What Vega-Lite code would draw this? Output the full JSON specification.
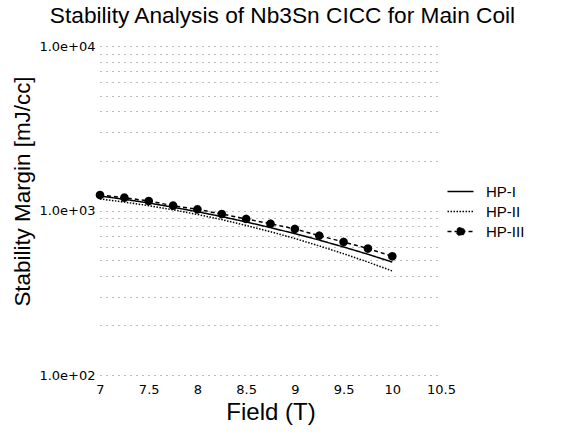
{
  "$schema": "https://vega.github.io/schema/vega-lite/v6.json",
  "width": 341,
  "height": 329,
  "autosize": "none",
  "padding": {"left": 100, "top": 46, "right": 130, "bottom": 62},
  "background": "white",
  "title": {
    "text": "Stability Analysis of Nb3Sn CICC for Main Coil",
    "font": "Liberation Sans",
    "fontSize": 22.7,
    "fontWeight": "normal",
    "color": "black",
    "anchor": "middle",
    "dx": 12,
    "offset": 12
  },
  "config": {
    "view": {"stroke": null},
    "font": "Liberation Sans"
  },
  "data": {
    "values": [
      {"series": "HP-I", "field": 7.0, "margin": 1225},
      {"series": "HP-I", "field": 7.25, "margin": 1170},
      {"series": "HP-I", "field": 7.5, "margin": 1111},
      {"series": "HP-I", "field": 7.75, "margin": 1047},
      {"series": "HP-I", "field": 8.0, "margin": 983},
      {"series": "HP-I", "field": 8.25, "margin": 918},
      {"series": "HP-I", "field": 8.5, "margin": 852},
      {"series": "HP-I", "field": 8.75, "margin": 787},
      {"series": "HP-I", "field": 9.0, "margin": 723},
      {"series": "HP-I", "field": 9.25, "margin": 661},
      {"series": "HP-I", "field": 9.5, "margin": 600},
      {"series": "HP-I", "field": 9.75, "margin": 542},
      {"series": "HP-I", "field": 10.0, "margin": 486},
      {"series": "HP-II", "field": 7.0, "margin": 1175},
      {"series": "HP-II", "field": 7.25, "margin": 1125},
      {"series": "HP-II", "field": 7.5, "margin": 1070},
      {"series": "HP-II", "field": 7.75, "margin": 1010},
      {"series": "HP-II", "field": 8.0, "margin": 946},
      {"series": "HP-II", "field": 8.25, "margin": 880},
      {"series": "HP-II", "field": 8.5, "margin": 811},
      {"series": "HP-II", "field": 8.75, "margin": 743},
      {"series": "HP-II", "field": 9.0, "margin": 676},
      {"series": "HP-II", "field": 9.25, "margin": 609},
      {"series": "HP-II", "field": 9.5, "margin": 546},
      {"series": "HP-II", "field": 9.75, "margin": 486},
      {"series": "HP-II", "field": 10.0, "margin": 429},
      {"series": "HP-III", "field": 7.0, "margin": 1242},
      {"series": "HP-III", "field": 7.25, "margin": 1197},
      {"series": "HP-III", "field": 7.5, "margin": 1142},
      {"series": "HP-III", "field": 7.75, "margin": 1070},
      {"series": "HP-III", "field": 8.0, "margin": 1016},
      {"series": "HP-III", "field": 8.25, "margin": 952},
      {"series": "HP-III", "field": 8.5, "margin": 888},
      {"series": "HP-III", "field": 8.75, "margin": 831},
      {"series": "HP-III", "field": 9.0, "margin": 772},
      {"series": "HP-III", "field": 9.25, "margin": 703},
      {"series": "HP-III", "field": 9.5, "margin": 644},
      {"series": "HP-III", "field": 9.75, "margin": 587},
      {"series": "HP-III", "field": 10.0, "margin": 527}
    ]
  },
  "encoding": {
    "x": {
      "field": "field",
      "type": "quantitative",
      "scale": {"domain": [7, 10.5], "nice": false, "zero": false},
      "axis": {
        "title": "Field (T)",
        "values": [7, 7.5, 8, 8.5, 9, 9.5, 10, 10.5],
        "format": "~g",
        "domain": false,
        "ticks": false,
        "grid": false,
        "labelFont": "DejaVu Sans",
        "labelFontSize": 13,
        "labelColor": "black",
        "labelPadding": 8,
        "labelFlush": false,
        "labelOverlap": false,
        "titleFont": "Liberation Sans",
        "titleFontSize": 24,
        "titleFontWeight": "normal",
        "titleColor": "black",
        "titlePadding": 4
      }
    },
    "y": {
      "field": "margin",
      "type": "quantitative",
      "scale": {"type": "log", "domain": [100, 10000], "nice": false},
      "axis": {
        "title": "Stability Margin [mJ/cc]",
        "values": [100, 200, 300, 400, 500, 600, 700, 800, 900, 1000, 2000, 3000, 4000, 5000, 6000, 7000, 8000, 9000, 10000],
        "labelExpr": "datum.value == 100 ? '1.0e+02' : datum.value == 1000 ? '1.0e+03' : datum.value == 10000 ? '1.0e+04' : ''",
        "domain": false,
        "ticks": false,
        "grid": true,
        "gridColor": "#777777",
        "gridDash": [1, 5],
        "gridWidth": 1,
        "labelFont": "DejaVu Sans",
        "labelFontSize": 13,
        "labelColor": "black",
        "labelPadding": 5,
        "labelFlush": false,
        "labelOverlap": false,
        "titleFont": "Liberation Sans",
        "titleFontSize": 22.4,
        "titleFontWeight": "normal",
        "titleColor": "black",
        "titlePadding": 4,
        "titleY": 145
      }
    }
  },
  "layer": [
    {
      "mark": {"type": "line", "color": "black", "strokeWidth": 1.5},
      "encoding": {
        "detail": {"field": "series"},
        "strokeDash": {
          "field": "series",
          "type": "nominal",
          "scale": {"domain": ["HP-I", "HP-II", "HP-III"], "range": [[1, 0], [1.5, 1.5], [4, 3]]},
          "legend": {
            "title": null,
            "orient": "none",
            "legendX": 353,
            "legendY": 138,
            "labelFont": "Liberation Sans",
            "labelFontSize": 15,
            "labelColor": "black",
            "symbolSize": 169,
            "symbolFillColor": "black",
            "rowPadding": 4,
            "labelOffset": 18,
            "encode": {
              "symbols": {
                "update": {
                  "stroke": {"value": "black"},
                  "strokeWidth": {"value": 1.3},
                  "strokeDash": {"scale": "strokeDash", "field": "value"},
                  "fill": {"value": "black"},
                  "fillOpacity": {"value": 1},
                  "size": {"value": 169},
                  "opacity": {"value": 1}
                }
              }
            }
          }
        }
      }
    },
    {
      "transform": [{"filter": "datum.series == 'HP-III'"}],
      "mark": {"type": "point", "filled": true, "color": "black", "size": 213, "opacity": 1},
      "encoding": {
        "shape": {
          "field": "series",
          "type": "nominal",
          "scale": {"domain": ["HP-I", "HP-II", "HP-III"], "range": ["M-2,0H2", "M-2,0H2", "M-2,0H2M0.6,0L0.52,0.3L0.3,0.52L0,0.6L-0.3,0.52L-0.52,0.3L-0.6,0L-0.52,-0.3L-0.3,-0.52L0,-0.6L0.3,-0.52L0.52,-0.3Z"]},
          "legend": {
            "title": null,
            "orient": "none",
            "legendX": 353,
            "legendY": 138,
            "labelFont": "Liberation Sans",
            "labelFontSize": 15,
            "labelColor": "black",
            "symbolSize": 169,
            "symbolFillColor": "black",
            "rowPadding": 4,
            "labelOffset": 18,
            "encode": {
              "symbols": {
                "update": {
                  "stroke": {"value": "black"},
                  "strokeWidth": {"value": 1.3},
                  "strokeDash": {"scale": "strokeDash", "field": "value"},
                  "fill": {"value": "black"},
                  "fillOpacity": {"value": 1},
                  "size": {"value": 169},
                  "opacity": {"value": 1}
                }
              }
            }
          }
        }
      }
    }
  ]
}
